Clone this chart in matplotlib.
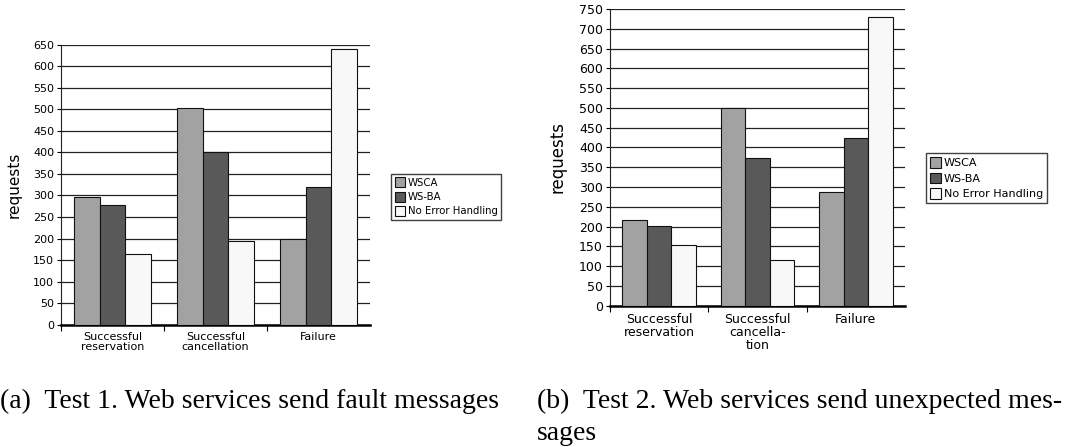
import numpy as np
import matplotlib.pyplot as plt
from matplotlib.patches import Patch

categories_1 = ['Successful\nreservation', 'Successful\ncancellation', 'Failure']
categories_2 = ['Successful\nreservation', 'Successful\ncancella-\ntion', 'Failure']
series = ['WSCA', 'WS-BA', 'No Error Handling']
colors = ['#a2a2a2', '#595959', '#f8f8f8']

test1 = {
    'WSCA': [296, 504, 200],
    'WS-BA': [278, 402, 320],
    'No Error Handling': [164, 195, 641],
}
test2 = {
    'WSCA': [216, 499, 287],
    'WS-BA': [201, 374, 425],
    'No Error Handling': [154, 116, 731],
}


def bar_panel(ax, data, cats, ymax, fs, lfs, lx):
    n = len(cats)
    x = np.arange(n)
    w = 0.25
    for k, name in enumerate(series):
        ax.bar(x - 0.375 + w * (k + 0.5), data[name], w, color=colors[k],
               edgecolor='#111111', linewidth=0.8, zorder=3)
    ax.set_xlim(-0.5, n - 0.5)
    ax.set_ylim(0, ymax)
    ax.set_yticks(np.arange(0, ymax + 1, 50))
    ax.yaxis.grid(True, color='#222222', linewidth=0.9, zorder=0)
    ax.set_axisbelow(True)
    ax.set_xticks(x)
    ax.set_xticklabels(cats, fontsize=fs, linespacing=1.0)
    ax.set_xticks(np.arange(n) - 0.5, minor=True)
    ax.tick_params(axis='x', which='major', length=0, pad=5)
    ax.tick_params(axis='x', which='minor', length=4, width=0.8, direction='out')
    ax.tick_params(axis='y', length=3, width=0.8, labelsize=fs, pad=2)
    for s in ['top', 'right']:
        ax.spines[s].set_visible(False)
    ax.spines['left'].set_color('#222222')
    ax.spines['left'].set_linewidth(0.8)
    ax.spines['bottom'].set_linewidth(1.8)
    ax.set_ylabel('requests', fontsize=lfs)
    ax.yaxis.set_label_coords(lx, 0.5)


fig = plt.figure(figsize=(10.69, 4.47), dpi=100)

ax1 = fig.add_axes([0.0571, 0.2736, 0.289, 0.6264])
bar_panel(ax1, test1, categories_1, 650, 8.0, 11, -0.126)

ax2 = fig.add_axes([0.5706, 0.3161, 0.276, 0.6638])
bar_panel(ax2, test2, categories_2, 750, 9.0, 12, -0.146)

handles = [Patch(facecolor=c, edgecolor='#111111', linewidth=0.8) for c in colors]
leg_style = dict(loc='upper left', frameon=True, fancybox=False, edgecolor='#111111',
                 handlelength=1.0, handleheight=1.1, handletextpad=0.3,
                 borderpad=0.35, labelspacing=0.4, borderaxespad=0)
fig.legend(handles, series, bbox_to_anchor=(0.366, 0.611), fontsize=7.3, **leg_style)
fig.legend(handles, series, bbox_to_anchor=(0.866, 0.657), fontsize=8.0, **leg_style)

cap = dict(fontsize=20, family='Liberation Serif', va='baseline', ha='left')
fig.text(0.0, 0.0872, '(a)  Test 1. Web services send fault messages', **cap)
fig.text(0.502, 0.0872, '(b)  Test 2. Web services send unexpected mes-', **cap)
fig.text(0.502, 0.0157, 'sages', **cap)

fig.savefig('out.png', dpi=100)
